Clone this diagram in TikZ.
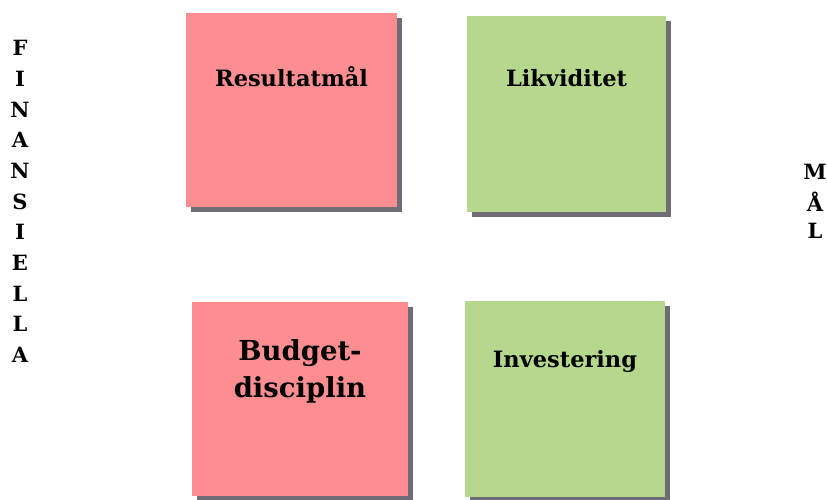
\documentclass[tikz,border=0pt]{standalone}
\usepackage{fontspec}
\setmainfont{DejaVu Serif}
\usepackage{tikz}
\usetikzlibrary{shadows}
\definecolor{notepink}{RGB}{252,142,146}
\definecolor{notegreen}{RGB}{182,216,140}
\definecolor{shadowgrey}{RGB}{112,108,118}

\tikzset{
  note/.style={rectangle, draw=none, inner sep=0pt,
    drop shadow={shadow xshift=5pt, shadow yshift=-5pt, fill=shadowgrey, opacity=1}},
  lbl/.style={font=\bfseries\fontsize{22.5}{26}\selectfont, inner sep=0pt},
  side/.style={font=\bfseries\fontsize{21}{22}\selectfont, inner sep=0pt}
}

\begin{document}
\begin{tikzpicture}[x=1pt,y=-1pt]
  \useasboundingbox (0,0) rectangle (827,500);

  % the four notes
  \node[note, fill=notepink, minimum width=211pt, minimum height=194pt] (res) at (291.5,110) {};
  \node[note, fill=notegreen, minimum width=199pt, minimum height=196pt] (lik) at (566.5,114) {};
  \node[note, fill=notepink, minimum width=216pt, minimum height=194pt] (bud) at (300,399) {};
  \node[note, fill=notegreen, minimum width=200pt, minimum height=196pt] (inv) at (565,399) {};

  \node[lbl] (resl) at ([yshift=-64pt]res.north) {Resultatmål};
  \node[lbl] (likl) at ([yshift=-62pt]lik.north) {Likviditet};
  \node[lbl, font=\bfseries\fontsize{27.5}{37}\selectfont, align=center] (budl) at ([yshift=-70pt]bud.north) {Budget-\\disciplin};
  \node[lbl] (invl) at ([yshift=-61pt]inv.north) {Investering};

  % vertical words
  \foreach \ch [count=\i] in {F,I,N,A,N,S,I,E,L,L,A}
    \node[side] (fin\i) at (20,{48+30.7*(\i-1)}) {\ch};
  \foreach \ch [count=\i] in {M,Å,L}
    \node[side] (mal\i) at (815,{172+29.5*(\i-1)}) {\ch};
\end{tikzpicture}
\end{document}
